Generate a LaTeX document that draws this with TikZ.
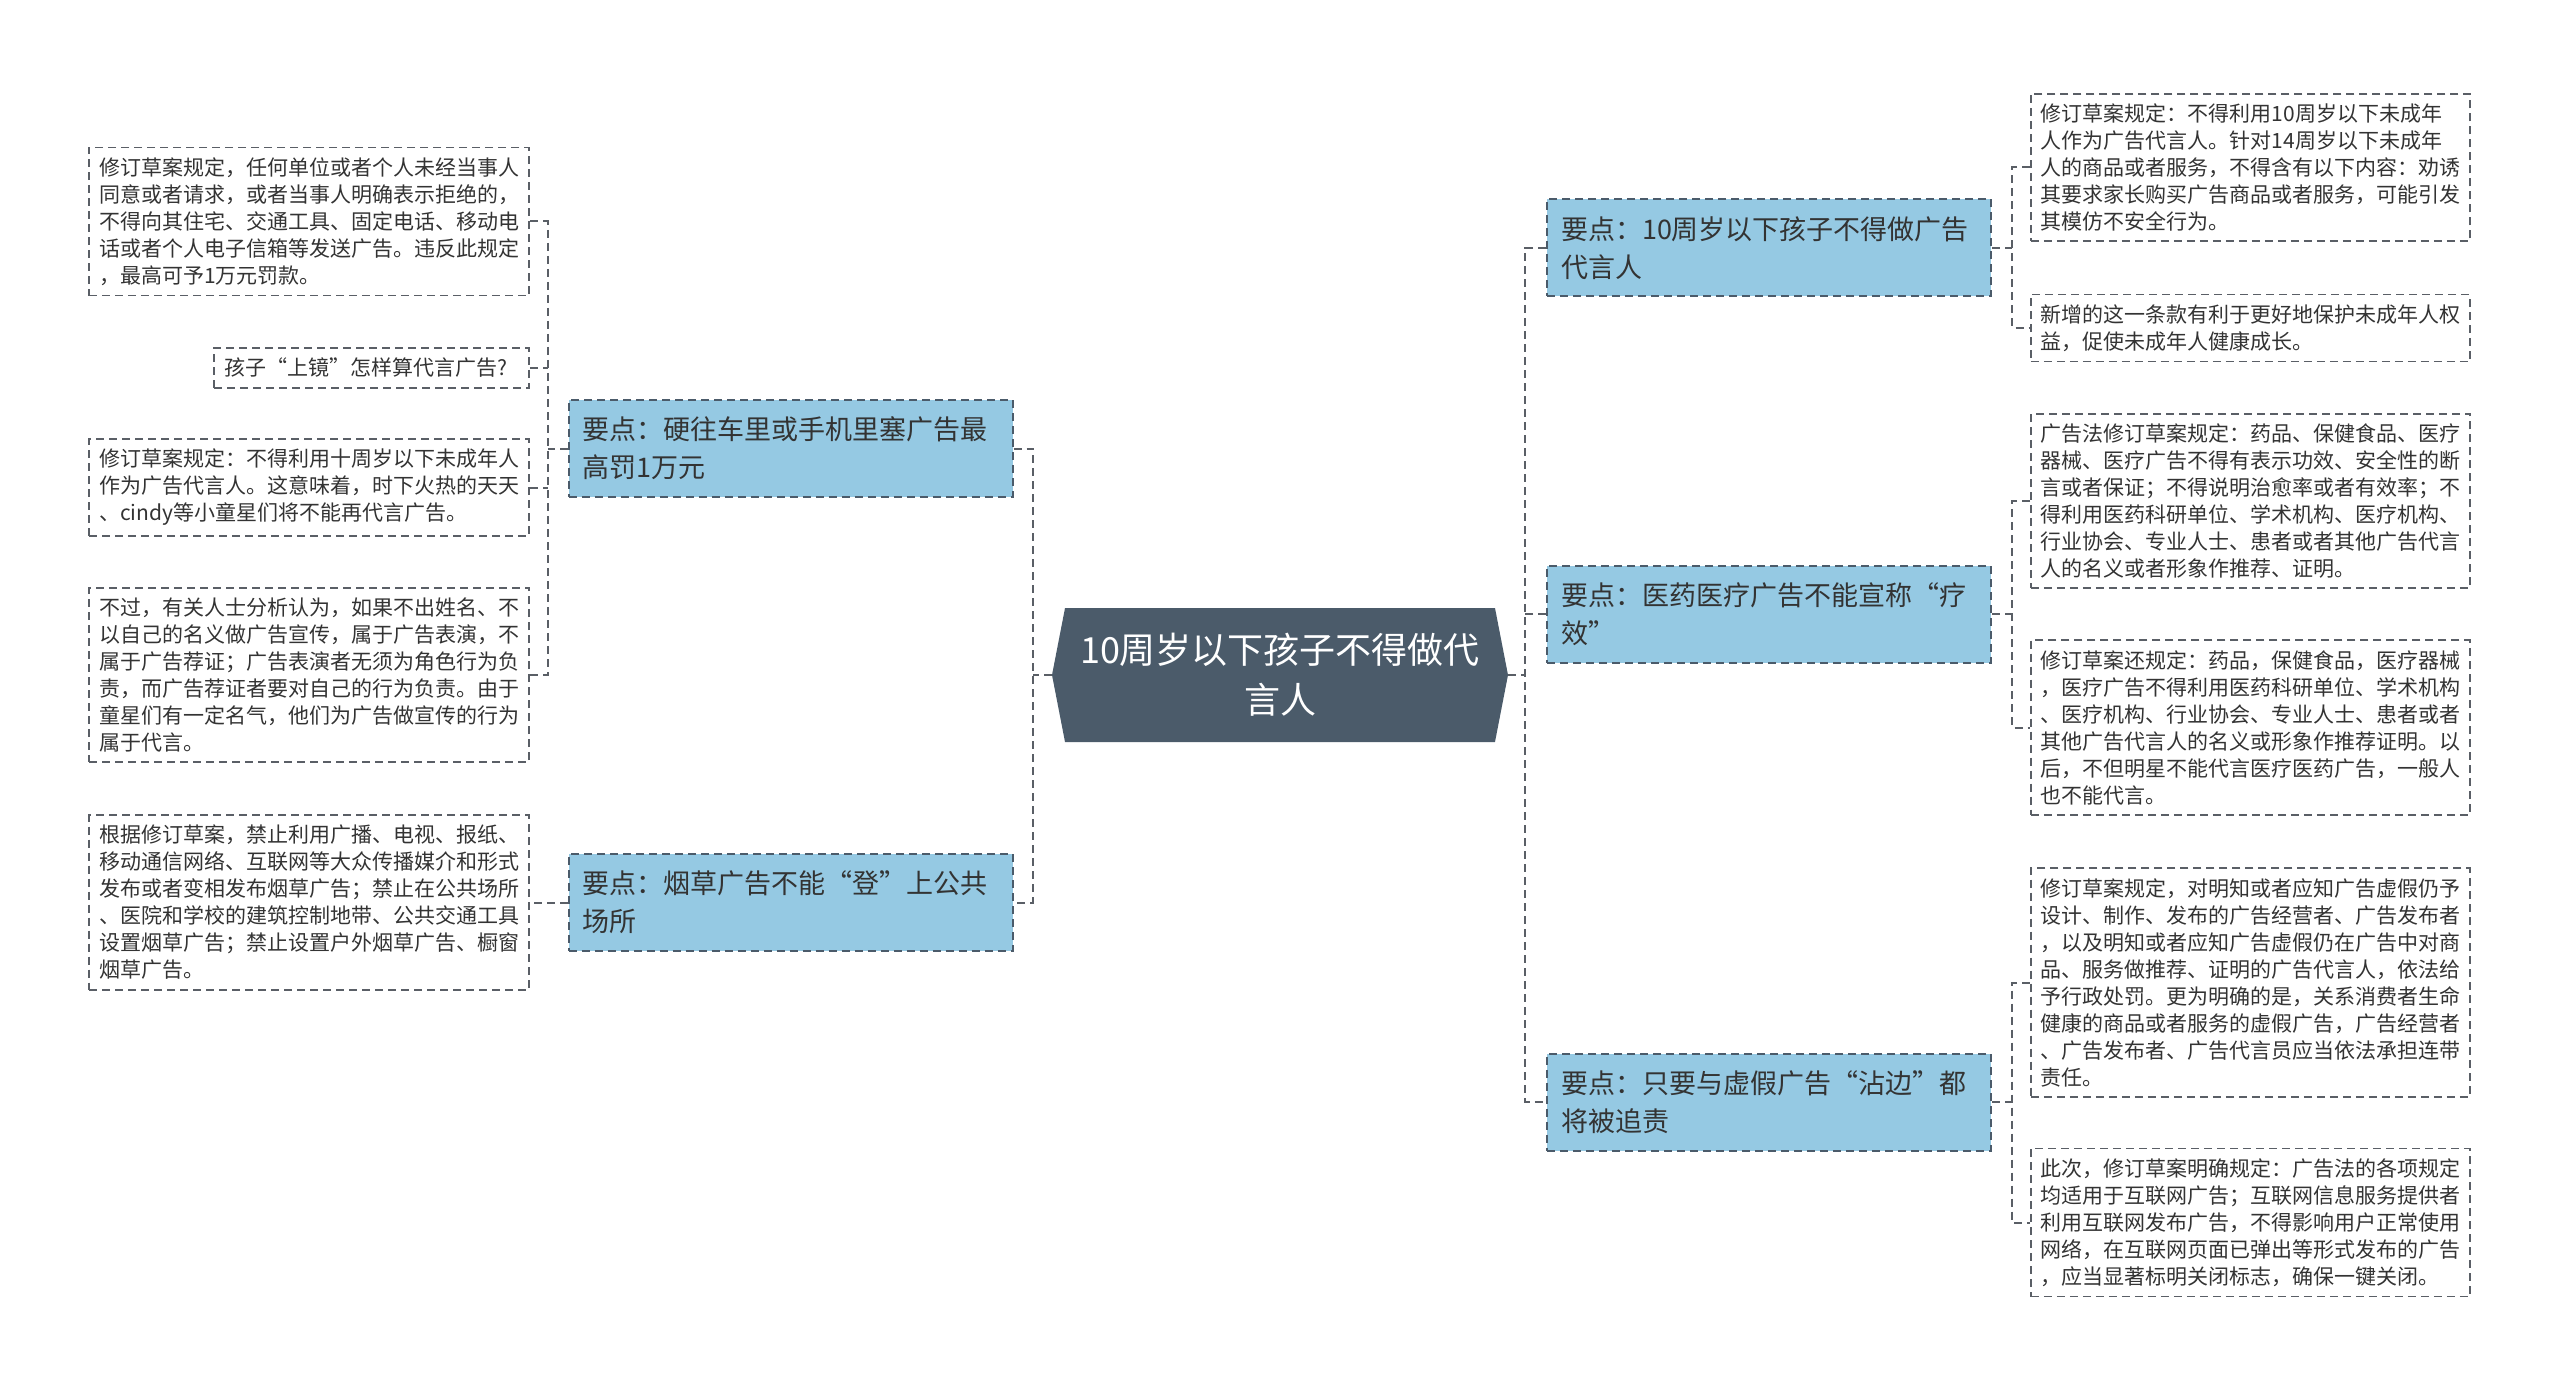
\documentclass[tikz,border=0pt]{standalone}
\usepackage{fontspec}
\setmainfont{Noto Sans CJK SC}
\usetikzlibrary{shapes.symbols}
\definecolor{rootfill}{HTML}{4B5B6A}
\definecolor{topicfill}{HTML}{95C9E3}
\definecolor{linegray}{HTML}{5A5F66}
\definecolor{textgray}{HTML}{333333}
\begin{document}
\begin{tikzpicture}[x=0.5pt,y=-0.5pt,
	conn/.style={draw=linegray,line width=1pt,dash pattern=on 4pt off 2.5pt},
	root/.style={signal,signal to=west and east,signal pointer angle=158,fill=rootfill,text=white,minimum width=228pt,minimum height=67pt,align=center,font=\fontsize{18}{25}\selectfont},
	topic/.style={draw=rootfill,fill=topicfill,line width=1pt,dash pattern=on 4pt off 2.5pt,text=textgray,text width=208pt,inner xsep=7pt,minimum height=48.5pt,align=left,font=\fontsize{13.5}{19}\selectfont},
	leaf/.style={draw=linegray,line width=0.9pt,dash pattern=on 4pt off 2.5pt,text=textgray,text width=210pt,inner xsep=5pt,inner ysep=5pt,align=left,font=\fontsize{10.5}{13.5}\selectfont}]
	\useasboundingbox (0,0) rectangle (2560,1391);
	\node [root] (root) at (1280,675) {10周岁以下孩子不得做代\\言人};
	\node [topic] (b1) at (790.5,448.5) {要点：硬往车里或手机里塞广告最\\高罚1万元};
	\node [topic] (b2) at (790.5,902.5) {要点：烟草广告不能“登”上公共\\场所};
	\node [topic] (r1) at (1769,248) {要点：10周岁以下孩子不得做广告\\代言人};
	\node [topic] (r2) at (1769,614) {要点：医药医疗广告不能宣称“疗\\效”};
	\node [topic] (r3) at (1769,1102) {要点：只要与虚假广告“沾边”都\\将被追责};
	\node [leaf,anchor=east] (l1) at (530,221.5) {修订草案规定，任何单位或者个人未经当事人\\同意或者请求，或者当事人明确表示拒绝的，\\不得向其住宅、交通工具、固定电话、移动电\\话或者个人电子信箱等发送广告。违反此规定\\，最高可予1万元罚款。};
	\node [leaf,anchor=east,text width=147.5pt] (l2) at (530,368) {孩子“上镜”怎样算代言广告?};
	\node [leaf,anchor=east] (l3) at (530,487.5) {修订草案规定：不得利用十周岁以下未成年人\\作为广告代言人。这意味着，时下火热的天天\\、cindy等小童星们将不能再代言广告。};
	\node [leaf,anchor=east] (l4) at (530,675) {不过，有关人士分析认为，如果不出姓名、不\\以自己的名义做广告宣传，属于广告表演，不\\属于广告荐证；广告表演者无须为角色行为负\\责，而广告荐证者要对自己的行为负责。由于\\童星们有一定名气，他们为广告做宣传的行为\\属于代言。};
	\node [leaf,anchor=east] (l5) at (530,902.5) {根据修订草案，禁止利用广播、电视、报纸、\\移动通信网络、互联网等大众传播媒介和形式\\发布或者变相发布烟草广告；禁止在公共场所\\、医院和学校的建筑控制地带、公共交通工具\\设置烟草广告；禁止设置户外烟草广告、橱窗\\烟草广告。};
	\node [leaf,anchor=west,text width=209.5pt] (rl1) at (2030,167.5) {修订草案规定：不得利用10周岁以下未成年\\人作为广告代言人。针对14周岁以下未成年\\人的商品或者服务，不得含有以下内容：劝诱\\其要求家长购买广告商品或者服务，可能引发\\其模仿不安全行为。};
	\node [leaf,anchor=west,text width=209.5pt] (rl2) at (2030,328) {新增的这一条款有利于更好地保护未成年人权\\益，促使未成年人健康成长。};
	\node [leaf,anchor=west,text width=209.5pt] (rl3) at (2030,501) {广告法修订草案规定：药品、保健食品、医疗\\器械、医疗广告不得有表示功效、安全性的断\\言或者保证；不得说明治愈率或者有效率；不\\得利用医药科研单位、学术机构、医疗机构、\\行业协会、专业人士、患者或者其他广告代言\\人的名义或者形象作推荐、证明。};
	\node [leaf,anchor=west,text width=209.5pt] (rl4) at (2030,727.5) {修订草案还规定：药品，保健食品，医疗器械\\，医疗广告不得利用医药科研单位、学术机构\\、医疗机构、行业协会、专业人士、患者或者\\其他广告代言人的名义或形象作推荐证明。以\\后，不但明星不能代言医疗医药广告，一般人\\也不能代言。};
	\node [leaf,anchor=west,text width=209.5pt] (rl5) at (2030,982.5) {修订草案规定，对明知或者应知广告虚假仍予\\设计、制作、发布的广告经营者、广告发布者\\，以及明知或者应知广告虚假仍在广告中对商\\品、服务做推荐、证明的广告代言人，依法给\\予行政处罚。更为明确的是，关系消费者生命\\健康的商品或者服务的虚假广告，广告经营者\\、广告发布者、广告代言员应当依法承担连带\\责任。};
	\node [leaf,anchor=west,text width=209.5pt] (rl6) at (2030,1222.5) {此次，修订草案明确规定：广告法的各项规定\\均适用于互联网广告；互联网信息服务提供者\\利用互联网发布广告，不得影响用户正常使用\\网络，在互联网页面已弹出等形式发布的广告\\，应当显著标明关闭标志，确保一键关闭。};
	\coordinate (lj) at ([xshift=-9.5pt]root.west);
	\coordinate (rj) at ([xshift=8.5pt]root.east);
	\coordinate (bj1) at ([xshift=-10pt]b1.west);
	\coordinate (rj1) at ([xshift=10pt]r1.east);
	\coordinate (rj2) at ([xshift=10pt]r2.east);
	\coordinate (rj3) at ([xshift=10pt]r3.east);
	\draw [conn] (root.west) -- (lj);
	\draw [conn] (b1.east) -| (b2.east -| lj) -- (b2.east);
	\draw [conn] (root.east) -- (rj);
	\draw [conn] (r1.west) -| (r3.west -| rj) -- (r3.west);
	\draw [conn] (r2.west) -- (r2.west -| rj);
	\draw [conn] (b1.west) -- (bj1);
	\draw [conn] (l1.east) -| (l4.east -| bj1) -- (l4.east);
	\draw [conn] (l2.east) -- (l2.east -| bj1);
	\draw [conn] (l3.east) -- (l3.east -| bj1);
	\draw [conn] (b2.west) -- (l5.east);
	\draw [conn] (r1.east) -- (rj1);
	\draw [conn] (rl1.west) -| (rl2.west -| rj1) -- (rl2.west);
	\draw [conn] (r2.east) -- (rj2);
	\draw [conn] (rl3.west) -| (rl4.west -| rj2) -- (rl4.west);
	\draw [conn] (r3.east) -- (rj3);
	\draw [conn] (rl5.west) -| (rl6.west -| rj3) -- (rl6.west);
\end{tikzpicture}
\end{document}
